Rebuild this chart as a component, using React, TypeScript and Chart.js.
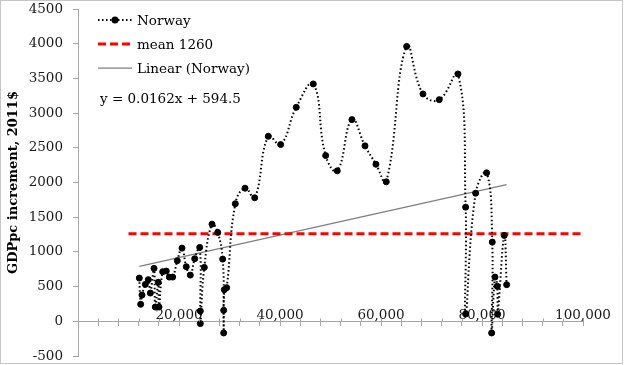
import React, { useEffect, useRef } from 'react';
import { Chart, registerables } from 'chart.js';

Chart.register(...registerables);

// ---- Data ----
const gdpLevel = [
  12140, 12410, 12670, 13330, 13920, 14320, 15050, 15300, 15900, 16040,
  16770, 17480, 18080, 18750, 19660, 20590, 21440, 22240, 23110, 24100,
  24220, 24220, 25010, 26530, 27660, 28650, 28850, 28850, 28970, 29440,
  31150, 33070, 34990, 37680, 40130, 43220, 46590, 49040, 51340, 54250,
  56830, 59000, 61040, 65080, 68310, 71540, 75240, 76760, 76760, 78740,
  80920, 82030, 81910, 82570, 83020, 83100, 84410, 84880,
];
const gdpIncrement = [
  623, 245, 378, 532, 600, 407, 763, 206, 561, 206,
  715, 724, 637, 637, 873, 1055, 787, 666, 902, 1065,
  148, -33, 777, 1400, 1281, 896, 158, -168, 456, 485,
  1694, 1918, 1780, 2666, 2547, 3083, 3420, 2388, 2168, 2906,
  2528, 2263, 2010, 3961, 3276, 3194, 3564, 1645, 105, 1846,
  2139, 1141, -168, 637, 504, 101, 1237, 528,
];
const meanValue = 1260;
const meanXRange = [10000, 100000];
const trendSlope = 0.0162;
const trendIntercept = 594.5;

const seriesNames = ['Norway', 'mean 1260', 'Linear (Norway)'];
const equationLabel = 'y = 0.0162x + 594.5';
const yAxisTitle = 'GDPpc increment, 2011$';

const yMin = -500;
const yMax = 4500;
const yStep = 500;
const xMin = 0;
const xMax = 100000;
const xStep = 4000;
const xLabelStep = 20000;

const FONT = 'DejaVu Serif';

const customPlugin = {
  id: 'customDecor',
  afterDraw(chart: any) {
    const ctx = chart.ctx as CanvasRenderingContext2D;
    ctx.save();

    // outer dotted border
    ctx.strokeStyle = '#8c8c8c';
    ctx.lineWidth = 1;
    ctx.setLineDash([1, 1]);
    ctx.strokeRect(0.5, 0.5, 622, 363);
    ctx.setLineDash([]);

    // upward part of the crossing x tick marks
    const xs = chart.scales.x;
    const ys = chart.scales.y;
    const y0 = Math.round(ys.getPixelForValue(0)) + 0.5;
    ctx.strokeStyle = '#a6a6a6';
    ctx.beginPath();
    for (let v = xMin; v <= xMax; v += xStep) {
      const px = Math.round(xs.getPixelForValue(v)) + 0.5;
      ctx.moveTo(px, y0 - 3);
      ctx.lineTo(px, y0);
    }
    ctx.stroke();

    // legend
    const ds = chart.data.datasets;
    const rows = [20, 44, 68];
    const sx0 = 98;
    const sx1 = 132;
    const tx = 137;
    ctx.font = `13.5px "${FONT}"`;
    ctx.textBaseline = 'middle';
    ctx.textAlign = 'left';
    ds.forEach((d: any, i: number) => {
      const y = rows[i];
      ctx.strokeStyle = d.borderColor;
      ctx.lineWidth = d.borderWidth;
      ctx.setLineDash(d.borderDash || []);
      ctx.beginPath();
      ctx.moveTo(sx0, y);
      ctx.lineTo(sx1, y);
      ctx.stroke();
      ctx.setLineDash([]);
      if (d.pointRadius > 0) {
        ctx.fillStyle = d.pointBackgroundColor;
        ctx.beginPath();
        ctx.arc((sx0 + sx1) / 2, y, d.pointRadius + 0.5, 0, Math.PI * 2);
        ctx.fill();
      }
      ctx.fillStyle = '#000';
      ctx.fillText(d.label, tx, y + 1);
    });
    ctx.fillStyle = '#000';
    ctx.fillText(equationLabel, 100, 99);
    ctx.restore();
  },
};

export default function App() {
  const ref = useRef<HTMLCanvasElement | null>(null);

  useEffect(() => {
    if (!ref.current) return;
    const norway = gdpLevel.map((x, i) => ({ x, y: gdpIncrement[i] }));
    const meanLine = meanXRange.map((x) => ({ x, y: meanValue }));
    const xs = [Math.min(...gdpLevel), Math.max(...gdpLevel)];
    const trend = xs.map((x) => ({ x, y: trendSlope * x + trendIntercept }));

    const tickFont = { family: FONT, size: 13.5 };

    const chart = new Chart(ref.current, {
      type: 'scatter',
      data: {
        datasets: [
          {
            label: seriesNames[0],
            data: norway,
            showLine: true,
            borderColor: '#000',
            borderWidth: 2,
            borderDash: [1.5, 2.5],
            tension: 0.45,
            pointRadius: 3,
            pointBorderWidth: 1,
            pointBackgroundColor: '#000',
            pointBorderColor: '#000',
          } as any,
          {
            label: seriesNames[1],
            data: meanLine,
            showLine: true,
            borderColor: '#ff0000',
            borderWidth: 3,
            borderDash: [8, 4],
            pointRadius: 0,
          } as any,
          {
            label: seriesNames[2],
            data: trend,
            showLine: true,
            borderColor: '#7f7f7f',
            borderWidth: 1.25,
            pointRadius: 0,
          } as any,
        ],
      },
      options: {
        responsive: false,
        animation: false,
        events: [],
        layout: { padding: { left: 0, top: 9, right: 42, bottom: 9 } },
        plugins: {
          legend: { display: false },
          tooltip: { enabled: false },
        },
        scales: {
          x: {
            type: 'linear',
            min: xMin,
            max: xMax,
            position: { y: 0 } as any,
            border: { display: true, color: '#a6a6a6', width: 1 },
            grid: { display: true, drawOnChartArea: false, drawTicks: true, tickLength: 4, color: '#a6a6a6' },
            ticks: {
              stepSize: xStep,
              autoSkip: false,
              maxRotation: 0,
              padding: -18,
              color: '#1a1a1a',
              font: tickFont,
              callback: (v: any) => (v !== 0 && v % xLabelStep === 0 ? Number(v).toLocaleString('en-US') : ''),
            },
          },
          y: {
            type: 'linear',
            min: yMin,
            max: yMax,
            afterFit: (s: any) => {
              s.width = 78;
              s.paddingTop = 0;
              s.paddingBottom = 0;
            },
            border: { display: true, color: '#a6a6a6', width: 1 },
            grid: { display: true, drawOnChartArea: false, drawTicks: true, tickLength: 5, color: '#a6a6a6' },
            ticks: {
              stepSize: yStep,
              padding: 10,
              color: '#1a1a1a',
              font: tickFont,
              callback: (v: any) => String(v),
            },
            title: {
              display: true,
              text: yAxisTitle,
              color: '#000',
              font: { family: FONT, size: 13, weight: 'bold' },
              padding: { top: 6, bottom: 0 },
            },
          },
        },
      } as any,
      plugins: [customPlugin],
    });
    return () => chart.destroy();
  }, []);

  return (
    <div style={{ position: 'fixed', left: 0, top: 0, width: 625, height: 365, background: '#fff' }}>
      <canvas ref={ref} width={625} height={365} style={{ display: 'block', width: 625, height: 365 }} />
    </div>
  );
}
